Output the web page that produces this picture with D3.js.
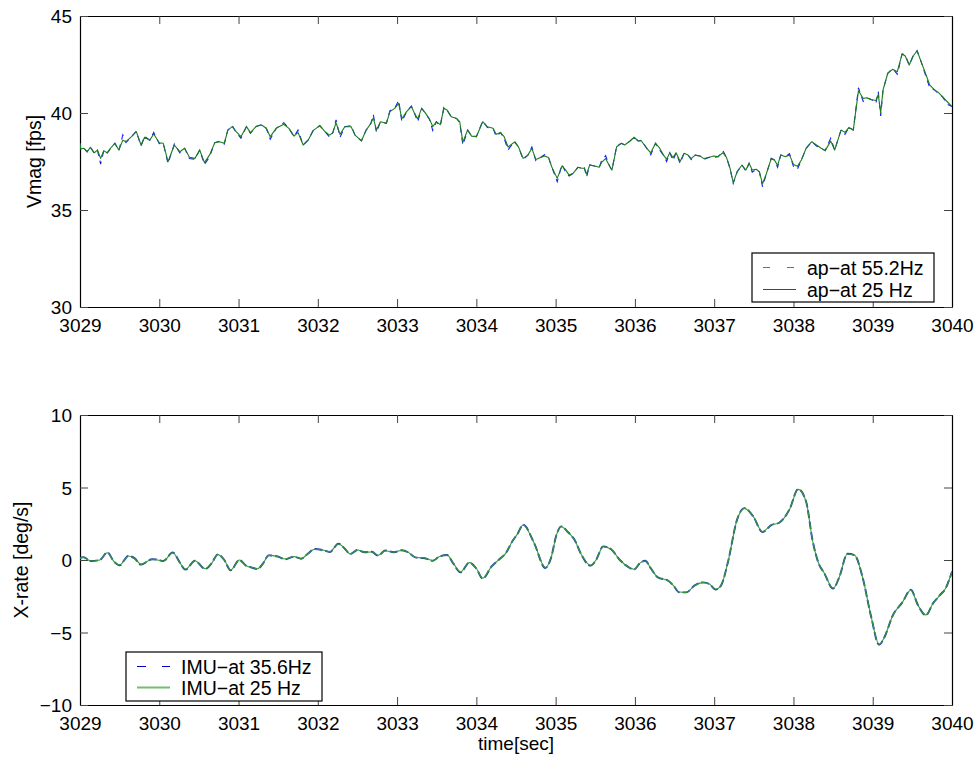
<!DOCTYPE html>
<html>
<head>
<meta charset="utf-8">
<script src="https://cdn.jsdelivr.net/npm/d3@7"></script>
<style>
  html, body { margin: 0; padding: 0; background: #fff; }
  svg { display: block; font-family: "Liberation Sans", Arial, Helvetica, sans-serif; }
</style>
</head>
<body>
<svg id="chart" width="980" height="761"></svg>
<script>
// ---------------- data ----------------
const xTicks = [3029, 3030, 3031, 3032, 3033, 3034, 3035, 3036, 3037, 3038, 3039, 3040];
const vmagTicks = [30, 35, 40, 45];
const rateTicks = [-10, -5, 0, 5, 10];

const topLegend = ["ap\u2212at 55.2Hz", "ap\u2212at 25 Hz"];
const bottomLegend = ["IMU\u2212at 35.6Hz", "IMU\u2212at 25 Hz"];

// time stamps for the Vmag traces (sec)
const tAp = [
  3029.00, 3029.01, 3029.05, 3029.09, 3029.13, 3029.18, 3029.22, 3029.26, 3029.30, 3029.34,
  3029.40, 3029.44, 3029.49, 3029.54, 3029.58, 3029.65, 3029.71, 3029.77, 3029.815, 3029.88,
  3029.93, 3030.00, 3030.05, 3030.11, 3030.19, 3030.26, 3030.32, 3030.38, 3030.45, 3030.51,
  3030.57, 3030.635, 3030.70, 3030.76, 3030.82, 3030.865, 3030.92, 3030.97, 3031.03, 3031.10,
  3031.15, 3031.22, 3031.29, 3031.35, 3031.40, 3031.475, 3031.57, 3031.635, 3031.70,
  3031.75, 3031.815, 3031.88, 3031.94, 3032.025, 3032.09, 3032.15, 3032.19, 3032.23, 3032.28,
  3032.34, 3032.42, 3032.47, 3032.55, 3032.61, 3032.67, 3032.70, 3032.74, 3032.79, 3032.865,
  3032.91, 3032.97, 3033.02, 3033.06, 3033.12, 3033.18, 3033.22, 3033.26, 3033.31, 3033.36,
  3033.41, 3033.45, 3033.495, 3033.545, 3033.59, 3033.63, 3033.685, 3033.75, 3033.79, 3033.83,
  3033.89, 3033.94, 3034.00, 3034.08, 3034.14, 3034.21, 3034.25, 3034.305, 3034.35, 3034.40, 3034.48,
  3034.53, 3034.59, 3034.65, 3034.70, 3034.75, 3034.81, 3034.86, 3034.91, 3034.95, 3035.02,
  3035.08, 3035.12, 3035.17, 3035.22, 3035.28, 3035.33, 3035.36, 3035.39, 3035.43, 3035.49,
  3035.55, 3035.58, 3035.63, 3035.68, 3035.71, 3035.77, 3035.83, 3035.87, 3035.94, 3035.99,
  3036.04, 3036.08, 3036.15, 3036.20, 3036.26, 3036.31, 3036.36, 3036.40, 3036.44, 3036.48,
  3036.52, 3036.57, 3036.62, 3036.67, 3036.71, 3036.76, 3036.82, 3036.87, 3036.93, 3036.99,
  3037.05, 3037.11, 3037.155, 3037.20, 3037.24,
  3037.29, 3037.35, 3037.40, 3037.44, 3037.48, 3037.53, 3037.57, 3037.61, 3037.66, 3037.72,
  3037.76, 3037.80, 3037.84, 3037.90, 3037.95, 3038.00, 3038.05, 3038.10, 3038.16, 3038.23,
  3038.29, 3038.35, 3038.40, 3038.47, 3038.52, 3038.60, 3038.65, 3038.70, 3038.755, 3038.82,
  3038.88, 3038.92, 3038.98, 3039.04, 3039.07, 3039.10, 3039.13, 3039.19, 3039.25, 3039.31,
  3039.37, 3039.41, 3039.46, 3039.51, 3039.56, 3039.61, 3039.67, 3039.72, 3039.78, 3039.83,
  3039.88, 3039.94, 3040.00
];

// Vmag, ap-at 25 Hz (fps)
const apAt25 = [
  38.44, 38.14, 38.18, 38.00, 38.23, 37.95, 38.09, 37.66, 38.06, 37.95,
  38.26, 38.44, 38.09, 38.60, 38.52, 38.78, 39.04, 38.35, 38.75, 38.60,
  38.92, 38.47, 38.44, 37.49, 38.35, 38.00, 38.18, 37.72, 37.66, 38.09,
  37.44, 37.84, 38.47, 38.52, 38.44, 39.12, 39.30, 39.04, 38.78, 39.30,
  38.99, 39.30, 39.38, 39.21, 38.78, 39.21, 39.42, 39.21, 38.81,
  39.00, 38.35, 38.61, 39.09, 39.35, 39.04, 38.86, 38.99, 39.50, 38.90,
  39.29, 39.29, 38.86, 38.56, 39.12, 39.47, 39.75, 39.12, 39.55, 39.47,
  40.07, 40.24, 40.50, 39.70, 40.07, 40.33, 39.98, 39.70, 40.24, 39.98,
  39.67, 39.30, 39.55, 39.40, 40.24, 40.15, 39.81, 39.72, 39.55, 38.50,
  39.12, 38.81, 38.78, 39.55, 39.29, 39.21, 38.90, 38.99, 38.78, 38.25, 38.50,
  38.26, 37.66, 37.83, 38.18, 37.60, 37.71, 37.78, 37.71, 37.23, 36.63,
  37.27, 37.10, 36.80, 36.89, 37.20, 37.15, 37.15, 36.85, 37.32, 37.27,
  37.20, 37.45, 37.65, 37.27, 37.06, 38.26, 38.44, 38.35, 38.56, 38.75,
  38.56, 38.57, 38.18, 37.95, 38.44, 38.20, 37.83, 37.62, 37.95, 37.70,
  37.95, 37.50, 37.92, 37.83, 37.65, 37.83, 37.78, 37.65, 37.71, 37.78,
  37.75, 37.95, 37.71, 37.15, 36.41,
  36.97, 37.32, 37.06, 37.41, 37.06, 37.10, 36.97, 36.35, 36.89, 37.66,
  37.58, 37.30, 37.84, 37.75, 37.84, 37.35, 37.25, 37.58, 38.18, 38.52,
  38.35, 38.18, 38.06, 38.55, 38.09, 39.12, 39.00, 39.26, 39.12, 41.15,
  40.75, 40.79, 40.70, 40.64, 40.95, 40.00, 41.19, 42.05, 42.25, 42.13,
  43.04, 42.94, 42.47, 42.94, 43.21, 42.65, 42.00, 41.44, 41.19, 41.05,
  40.84, 40.58, 40.33
];

// Vmag, ap-at 55.2 Hz (fps)
const apAt55 = [
  38.44, 38.10, 38.18, 38.00, 38.26, 37.92, 38.09, 37.37, 38.06, 37.90,
  38.26, 38.44, 38.05, 38.87, 38.48, 38.78, 39.06, 38.30, 38.80, 38.60,
  39.00, 38.42, 38.44, 37.40, 38.40, 37.95, 38.18, 37.65, 37.62, 38.09,
  37.35, 37.75, 38.47, 38.55, 38.40, 39.12, 39.35, 39.00, 38.70, 39.30,
  38.95, 39.30, 39.40, 39.21, 38.65, 39.21, 39.50, 39.21, 38.78,
  39.12, 38.35, 38.61, 39.09, 39.35, 39.04, 38.75, 38.99, 39.65, 38.75,
  39.29, 39.35, 38.86, 38.56, 39.12, 39.47, 39.92, 39.00, 39.55, 39.47,
  40.12, 40.24, 40.65, 39.55, 40.07, 40.36, 39.98, 39.55, 40.24, 39.98,
  39.67, 39.10, 39.55, 39.33, 40.28, 40.15, 39.78, 39.72, 39.50, 38.35,
  39.12, 38.81, 38.78, 39.58, 39.25, 39.21, 38.80, 38.99, 38.70, 38.10, 38.55,
  38.26, 37.60, 37.83, 38.25, 37.55, 37.71, 37.85, 37.71, 37.23, 36.46,
  37.35, 37.00, 36.75, 36.89, 37.20, 37.15, 37.25, 36.70, 37.32, 37.27,
  37.20, 37.55, 37.80, 37.27, 37.06, 38.30, 38.44, 38.35, 38.56, 38.75,
  38.56, 38.60, 38.18, 37.85, 38.44, 38.10, 37.83, 37.50, 37.95, 37.55,
  37.95, 37.40, 37.92, 37.83, 37.60, 37.83, 37.78, 37.60, 37.71, 37.70,
  37.75, 38.05, 37.71, 37.15, 36.37,
  36.97, 37.32, 37.00, 37.41, 36.95, 37.10, 36.97, 36.20, 36.89, 37.66,
  37.58, 37.20, 37.84, 37.75, 37.90, 37.25, 37.10, 37.58, 38.18, 38.52,
  38.30, 38.18, 38.06, 38.70, 38.09, 39.12, 38.90, 39.26, 39.12, 41.30,
  40.60, 40.79, 40.70, 40.50, 41.10, 39.85, 41.19, 42.05, 42.30, 42.00,
  43.04, 43.00, 42.47, 42.94, 43.21, 42.65, 41.90, 41.30, 41.19, 41.00,
  40.84, 40.45, 40.33
];

// time stamps for the X-rate traces (sec)
const tImu = [
  3029.00, 3029.04, 3029.14, 3029.25, 3029.345, 3029.43, 3029.50, 3029.61, 3029.69, 3029.77,
  3029.91, 3029.98, 3030.05, 3030.17, 3030.26, 3030.33, 3030.45, 3030.58, 3030.66, 3030.74,
  3030.82, 3030.90, 3031.01, 3031.10, 3031.16, 3031.24, 3031.31, 3031.38, 3031.50, 3031.59,
  3031.70, 3031.79, 3031.87, 3031.96, 3032.06, 3032.15, 3032.26, 3032.34, 3032.41, 3032.50,
  3032.59, 3032.68, 3032.76, 3032.85, 3032.96, 3033.06, 3033.14, 3033.23, 3033.35, 3033.45,
  3033.53, 3033.63, 3033.71, 3033.80, 3033.91, 3034.00, 3034.08, 3034.19, 3034.29, 3034.37,
  3034.46, 3034.52, 3034.59, 3034.73, 3034.87, 3034.94, 3035.01, 3035.07, 3035.15, 3035.24,
  3035.32, 3035.44, 3035.51, 3035.60, 3035.70, 3035.81, 3035.91, 3035.99, 3036.06, 3036.13,
  3036.20, 3036.29, 3036.42, 3036.49, 3036.56, 3036.65, 3036.75, 3036.86, 3036.94, 3037.02,
  3037.09, 3037.17, 3037.29, 3037.38, 3037.49, 3037.61, 3037.72, 3037.82, 3037.95, 3038.06,
  3038.16, 3038.24, 3038.31, 3038.39, 3038.50, 3038.58, 3038.68, 3038.77, 3038.87, 3038.98,
  3039.08, 3039.15, 3039.25, 3039.38, 3039.48, 3039.57, 3039.67, 3039.76, 3039.85, 3039.92,
  3040.00
];

// X-rate, IMU-at 25 Hz (deg/s)
const imuAt25 = [
  0.11, 0.18, -0.07, 0.00, 0.50, -0.12, -0.34, 0.28, 0.11, -0.30,
  0.05, 0.00, -0.07, 0.50, -0.18, -0.64, -0.05, -0.60, -0.23, 0.37,
  0.00, -0.69, 0.00, -0.41, -0.51, -0.60, -0.23, 0.32, 0.23, 0.07,
  0.23, 0.09, 0.41, 0.74, 0.69, 0.57, 1.10, 0.80, 0.41, 0.69,
  0.53, 0.55, 0.32, 0.64, 0.53, 0.67, 0.53, 0.18, 0.14, -0.05,
  0.23, 0.34, -0.23, -0.83, -0.18, -0.57, -1.26, -0.46, 0.05, 0.46,
  1.35, 1.80, 2.41, 1.15, -0.53, 0.11, 1.72, 2.30, 1.95, 1.38,
  0.41, -0.37, 0.00, 0.92, 0.74, 0.00, -0.46, -0.64, -0.23, -0.07,
  -0.57, -1.20, -1.43, -1.79, -2.21, -2.23, -1.77, -1.56, -1.66, -2.02,
  -1.72, -0.23, 2.80, 3.56, 3.03, 1.95, 2.41, 2.57, 3.49, 4.87,
  4.02, 1.38, -0.12, -0.92, -1.95, -1.15, 0.41, 0.34, -1.15, -3.91,
  -5.82, -5.29, -3.86, -2.87, -2.07, -3.10, -3.79, -2.99, -2.41, -1.95,
  -0.80
];

// X-rate, IMU-at 35.6 Hz (deg/s)
const imuAt35 = [
  0.13, 0.20, -0.07, 0.00, 0.52, -0.12, -0.36, 0.28, 0.11, -0.32,
  0.05, 0.02, -0.07, 0.52, -0.18, -0.66, -0.05, -0.62, -0.23, 0.39,
  0.00, -0.71, 0.00, -0.41, -0.51, -0.62, -0.23, 0.32, 0.23, 0.05,
  0.23, 0.09, 0.41, 0.76, 0.69, 0.55, 1.12, 0.78, 0.41, 0.69,
  0.53, 0.57, 0.30, 0.66, 0.53, 0.67, 0.53, 0.18, 0.12, -0.05,
  0.23, 0.34, -0.25, -0.85, -0.18, -0.59, -1.28, -0.46, 0.05, 0.46,
  1.35, 1.80, 2.43, 1.15, -0.55, 0.11, 1.72, 2.32, 1.95, 1.38,
  0.41, -0.39, 0.00, 0.94, 0.74, 0.00, -0.46, -0.66, -0.23, -0.05,
  -0.57, -1.20, -1.43, -1.79, -2.23, -2.23, -1.77, -1.54, -1.66, -2.04,
  -1.72, -0.23, 2.80, 3.58, 3.03, 1.93, 2.41, 2.57, 3.49, 4.89,
  4.02, 1.38, -0.12, -0.92, -1.97, -1.15, 0.43, 0.34, -1.15, -3.91,
  -5.84, -5.29, -3.86, -2.87, -2.05, -3.10, -3.81, -2.99, -2.41, -1.95,
  -0.80
];

// ---------------- layout ----------------
const svg = d3.select("#chart");
const left = 80, right = 952;
const panels = [
  { top: 16, bottom: 307, domain: [30, 45], ticks: vmagTicks, label: "Vmag [fps]", labelX: 41 },
  { top: 415, bottom: 705, domain: [-10, 10], ticks: rateTicks, label: "X-rate [deg/s]", labelX: 28 }
];

const x = d3.scaleLinear().domain([3029, 3040]).range([left, right]);
const fmtY = d => (d < 0 ? "\u2212" + Math.abs(d) : String(d));
const FONT = 19;

function drawFrame(p, i) {
  const y = d3.scaleLinear().domain(p.domain).range([p.bottom, p.top]);
  p.y = y;
  const g = svg.append("g");

  svg.append("clipPath").attr("id", "clip" + i)
    .append("rect").attr("x", left).attr("y", p.top)
    .attr("width", right - left).attr("height", p.bottom - p.top);

  const axB = g.append("g").attr("transform", `translate(0,${p.bottom})`)
    .call(d3.axisBottom(x).tickValues(xTicks).tickFormat(d3.format("d"))
      .tickSizeInner(-8).tickSizeOuter(0).tickPadding(12));
  const axT = g.append("g").attr("transform", `translate(0,${p.top})`)
    .call(d3.axisTop(x).tickValues(xTicks).tickFormat("")
      .tickSizeInner(-8).tickSizeOuter(0));
  const axL = g.append("g").attr("transform", `translate(${left},0)`)
    .call(d3.axisLeft(y).tickValues(p.ticks).tickFormat(fmtY)
      .tickSizeInner(-8).tickSizeOuter(0).tickPadding(8));
  const axR = g.append("g").attr("transform", `translate(${right},0)`)
    .call(d3.axisRight(y).tickValues(p.ticks).tickFormat("")
      .tickSizeInner(-8).tickSizeOuter(0));

  [axB, axT, axL, axR].forEach(a => {
    a.select(".domain").attr("stroke", "#000").attr("stroke-width", 1.2);
    a.selectAll(".tick line").attr("stroke", "#444").attr("stroke-width", 1);
    a.selectAll("text").attr("font-size", FONT).attr("fill", "#000")
      .attr("font-family", "'Liberation Sans', Arial, sans-serif");
  });
  axL.selectAll("text").attr("dy", "0.36em");

  svg.append("text")
    .attr("transform", `translate(${p.labelX},${(p.top + p.bottom) / 2}) rotate(-90)`)
    .attr("text-anchor", "middle").attr("font-size", 19.5).attr("fill", "#000")
    .text(p.label);
}
panels.forEach(drawFrame);

// ---------------- lines ----------------
const pTop = panels[0], pBot = panels[1];

const lineTop = d3.line().x(d => x(d[0])).y(d => pTop.y(d[1]));
const lineBot = d3.line().x(d => x(d[0])).y(d => pBot.y(d[1])).curve(d3.curveMonotoneX);

const topG = svg.append("g").attr("clip-path", "url(#clip0)");
topG.append("path").datum(tAp.map((t, i) => [t, apAt55[i]]))
  .attr("d", lineTop).attr("fill", "none")
  .attr("stroke", "#1a1aff").attr("stroke-width", 1.1).attr("stroke-dasharray", "6,5");
topG.append("path").datum(tAp.map((t, i) => [t, apAt25[i]]))
  .attr("d", lineTop).attr("fill", "none")
  .attr("stroke", "#1b7d1b").attr("stroke-width", 1.1).attr("stroke-linejoin", "round");

const botG = svg.append("g").attr("clip-path", "url(#clip1)");
botG.append("path").datum(tImu.map((t, i) => [t, imuAt35[i]]))
  .attr("d", lineBot).attr("fill", "none")
  .attr("stroke", "#1c3fa8").attr("stroke-width", 1.9).attr("stroke-dasharray", "8,3");
botG.append("path").datum(tImu.map((t, i) => [t, imuAt25[i]]))
  .attr("d", lineBot).attr("fill", "none")
  .attr("stroke", "#379a37").attr("stroke-width", 1.1);

// ---------------- legends ----------------
function legend(box, entries, styles) {
  const g = svg.append("g");
  g.append("rect").attr("x", box.x).attr("y", box.y).attr("width", box.w).attr("height", box.h)
    .attr("fill", "#fff").attr("stroke", "#000").attr("stroke-width", 1.2);
  entries.forEach((label, i) => {
    const cy = box.rows[i];
    g.append("line").attr("x1", box.sx1).attr("x2", box.sx2).attr("y1", cy).attr("y2", cy)
      .attr("stroke", styles[i].color).attr("stroke-width", styles[i].width)
      .attr("stroke-dasharray", styles[i].dash || null);
    g.append("text").attr("x", box.tx).attr("y", cy).attr("dy", "0.36em")
      .attr("font-size", 19.5).attr("fill", "#000").text(label);
  });
}
legend({ x: 752, y: 253, w: 182, h: 49, rows: [267.5, 289.5], sx1: 763, sx2: 796, tx: 807 },
  topLegend,
  [{ color: "#5f5fff", width: 1, dash: "7,17" }, { color: "#0b700b", width: 1 }]);
legend({ x: 126, y: 652, w: 196, h: 49, rows: [666.5, 687.5], sx1: 137, sx2: 170, tx: 181 },
  bottomLegend,
  [{ color: "#0000c8", width: 1, dash: "9,16" }, { color: "#70c070", width: 2 }]);

// x label
svg.append("text").attr("x", (left + right) / 2).attr("y", 750)
  .attr("text-anchor", "middle").attr("font-size", 19).attr("fill", "#000").text("time[sec]");
</script>
</body>
</html>
